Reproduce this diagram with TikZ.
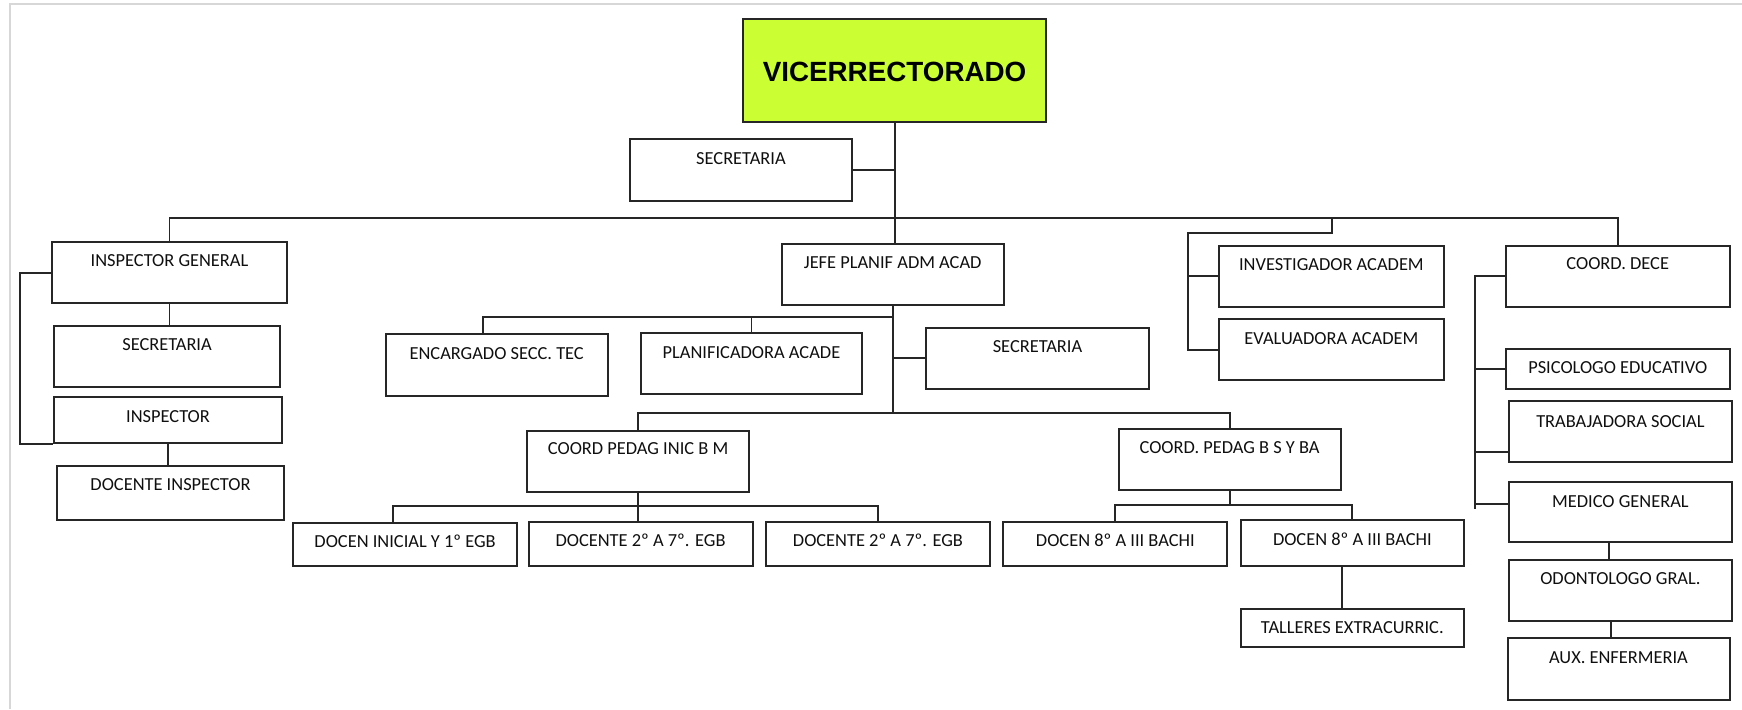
\documentclass[tikz,border=0pt]{standalone}
\usepackage{fontspec}
\setmainfont{Carlito}
\newfontfamily\arialfam{Liberation Sans}
\usetikzlibrary{fit,calc}
\definecolor{vicegreen}{RGB}{204,255,51}
\definecolor{framegray}{RGB}{215,215,215}
\definecolor{txt}{RGB}{15,15,15}
\tikzset{
  obox/.style={draw=black!85, line width=1pt, inner sep=0pt, rectangle},
  lbl/.style={anchor=base, inner sep=0pt, text=txt, font=\fontsize{9.2}{11}\selectfont},
  conn/.style={draw=black!85, line width=0.95pt},
}
\newcommand\mkbox[6]{\node[obox,#6, fit={(#2,#3) (#4,#5)}] (#1) {};}
\newcommand\lab[3]{\path (#1.north) ++(0,#2) node[lbl] (#1-t) {#3};}
\begin{document}
\begin{tikzpicture}[x=0.5pt,y=-0.5pt]
\useasboundingbox (0,0) rectangle (1742,709);
% frame
\draw[framegray, line width=1pt] (10.3,709) -- (10.3,4) -- (1742,4);

% boxes
\mkbox{vice}{743.4}{19}{1045.7}{122}{fill=vicegreen}
\path (vice.north) ++(0,63.3) node[anchor=base, inner sep=0pt, text=black, font={\arialfam\bfseries\fontsize{13.9}{16}\selectfont}] (vice-t) {VICERRECTORADO};
\mkbox{sec0}{629.8}{139.3}{852.1}{200.7}{}
\mkbox{ig}{52.4}{242.3}{286.6}{303.3}{}
\mkbox{sec1}{54.3}{326}{279.8}{387.3}{}
\mkbox{insp}{54.3}{397.3}{281.7}{443.3}{}
\mkbox{docinsp}{57.4}{465.7}{283.6}{520.3}{}
\mkbox{jefe}{781.7}{244}{1003.7}{305.3}{}
\mkbox{enc}{385.8}{334.3}{607.6}{396}{}
\mkbox{plan}{640.5}{333.3}{862.4}{394}{}
\mkbox{sec2}{926.3}{327.7}{1148.7}{389}{}
\mkbox{cpi}{527.4}{430.7}{748.8}{492.3}{}
\mkbox{cpb}{1118.5}{429}{1340.7}{490.3}{}
\mkbox{d1}{293.2}{523}{517}{565.7}{}
\mkbox{d2}{528.5}{522}{752.6}{565.7}{}
\mkbox{d3}{766}{522}{989.9}{565.7}{}
\mkbox{d4}{1003.3}{522}{1227.4}{565.7}{}
\mkbox{d5}{1240.6}{520}{1464.1}{565.7}{}
\mkbox{tall}{1240.6}{609.3}{1464.1}{647.3}{}
\mkbox{inv}{1219.1}{245.7}{1443.7}{306.7}{}
\mkbox{eva}{1219.1}{319}{1443.7}{380.3}{}
\mkbox{dece}{1506}{245.7}{1729.5}{306.7}{}
\mkbox{psi}{1506}{349}{1729.5}{389}{}
\mkbox{trab}{1509}{401.3}{1731.8}{462.3}{}
\mkbox{med}{1509}{481.7}{1731.8}{542.3}{}
\mkbox{odo}{1509}{560}{1731.8}{621}{}
\mkbox{aux}{1507.5}{638.3}{1729.5}{700}{}

% labels
\lab{sec0}{25.9}{SECRETARIA}
\lab{ig}{25.3}{INSPECTOR GENERAL}
\lab{sec1}{25.9}{SECRETARIA}
\lab{insp}{25.9}{INSPECTOR}
\lab{docinsp}{25.9}{DOCENTE INSPECTOR}
\lab{jefe}{25.2}{JEFE PLANIF ADM ACAD}
\lab{enc}{26.6}{ENCARGADO SECC. TEC}
\lab{plan}{26.6}{PLANIFICADORA ACADE}
\lab{sec2}{25.5}{SECRETARIA}
\lab{cpi}{25.2}{COORD PEDAG INIC B M}
\lab{cpb}{25.2}{COORD. PEDAG B S Y BA}
\lab{d1}{25.6}{DOCEN INICIAL Y 1º EGB}
\lab{d2}{25.2}{DOCENTE 2º A 7º. EGB}
\lab{d3}{25.2}{DOCENTE 2º A 7º. EGB}
\lab{d4}{25}{DOCEN 8º A III BACHI}
\lab{d5}{26}{DOCEN 8º A III BACHI}
\lab{tall}{24.9}{TALLERES EXTRACURRIC.}
\lab{inv}{25.9}{INVESTIGADOR ACADEM}
\lab{eva}{26.9}{EVALUADORA ACADEM}
\lab{dece}{25.2}{COORD. DECE}
\lab{psi}{25.2}{PSICOLOGO EDUCATIVO}
\lab{trab}{27.3}{TRABAJADORA SOCIAL}
\lab{med}{26.9}{MEDICO GENERAL}
\lab{odo}{25.9}{ODONTOLOGO GRAL.}
\lab{aux}{25.9}{AUX. ENFERMERIA}

% helper coordinates
\coordinate (l4) at (0,412.7);
\coordinate (j3) at (0,317);
\coordinate (b5) at (0,505.7);
\coordinate (ie) at (1331.6,219.3);
\coordinate (iecorner) at (1188.1,233.3);
\coordinate (dbend) at (1474.7,509.3);
\coordinate (dt) at (1474.7,451.7);
\coordinate (dm) at (1474.7,504);

% connectors
\draw[conn] (vice.south) -- (vice.south |- jefe.north);
\draw[conn] (sec0.east) -- (sec0.east -| vice.south);
\draw[conn] (ig.north) -- ++(0,-23) -| (dece.north);
\draw[conn] (ie) |- (iecorner) |- (eva.west);
\draw[conn] (iecorner |- inv.west) -- (inv.west);
\draw[conn] (ig.south) -- (ig.south |- sec1.north);
\draw[conn] (ig.west) -- ++(-31.4,0) |- (insp.south west);
\draw[conn] (insp.south) -- (insp.south |- docinsp.north);
\draw[conn] (jefe.south) -- (jefe.south |- l4);
\draw[conn] (jefe.south |- j3) -| ($(enc.north)+(-13.4,0)$);
\draw[conn] (plan.north) -- (plan.north |- j3);
\draw[conn] (sec2.west) -- (sec2.west -| jefe.south);
\draw[conn] (cpi.north) |- (jefe.south |- l4);
\draw[conn] (jefe.south |- l4) -| (cpb.north);
\draw[conn] (cpi.south) -- (cpi.south |- d2.north);
\draw[conn] ($(d1.north)+(-12,0)$) -- ++(0,-15.7) -| (d3.north);
\draw[conn] (cpb.south) -- (cpb.south |- b5);
\draw[conn] (d4.north) -- ++(0,-16.3) -| (d5.north);
\coordinate (t5) at ($(d5.south)+(-10.6,0)$);
\draw[conn] (t5) -- (t5 |- tall.north);
\coordinate (m5) at ($(med.south)+(-11.7,0)$);
\draw[conn] (m5) -- (m5 |- odo.north);
\coordinate (o5) at ($(odo.south)+(-9.8,0)$);
\draw[conn] (o5) -- (o5 |- aux.north);
\draw[conn] (dece.west) -| (dbend);
\draw[conn] (psi.west) -- (psi.west -| dbend);
\draw[conn] (dt) -- (dt -| trab.west);
\draw[conn] (dm) -- (dm -| med.west);
\end{tikzpicture}
\end{document}
